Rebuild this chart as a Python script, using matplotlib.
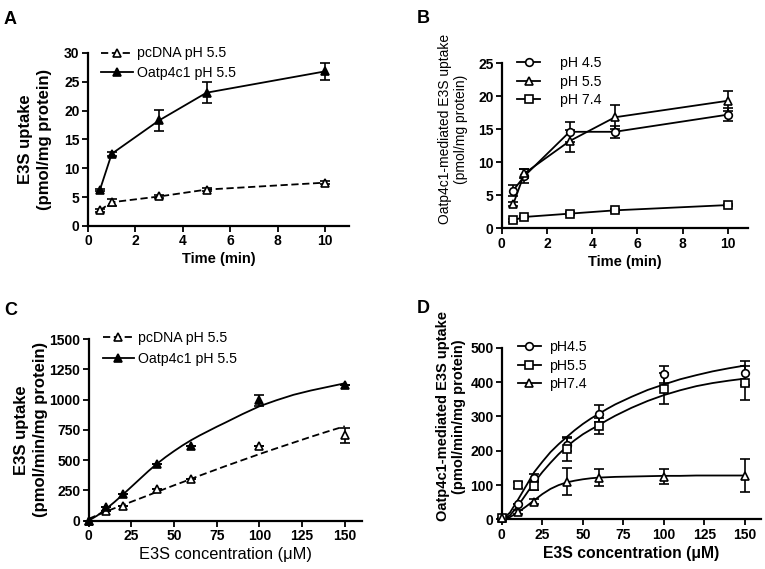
import matplotlib
matplotlib.use('Agg')
import matplotlib.pyplot as plt
from matplotlib.lines import Line2D

plt.rcParams['font.family'] = ['Liberation Sans', 'DejaVu Sans']

# ---------------- panel A: time course, pH 5.5 ----------------
time_a = [0.5, 1, 3, 5, 10]
pcdna_a = [2.7, 4.1, 5.1, 6.3, 7.5]
pcdna_a_err = [0.3, 0.6, 0.3, 0.3, 0.3]
oatp_a = [6.2, 12.5, 18.3, 23.1, 26.8]
oatp_a_err = [0.2, 0.3, 1.8, 1.8, 1.5]

# ---------------- panel B: time course, three pH ----------------
time_b = [0.5, 1, 3, 5, 10]
ph45_b = [5.7, 7.9, 14.6, 14.6, 17.2]
ph45_b_err = [0.8, 1.1, 1.5, 0.9, 1.0]
ph55_b = [3.6, 8.3, 13.2, 16.8, 19.3]
ph55_b_err = [0.3, 0.7, 1.7, 1.8, 1.5]
ph74_b = [1.2, 1.7, 2.2, 2.7, 3.5]
ph74_b_err = [0.2, 0.2, 0.2, 0.2, 0.2]

# ---------------- panel C: concentration dependence ----------------
conc_c = [0, 10, 20, 40, 60, 100, 150]
pcdna_c = [0, 80, 125, 265, 345, 618, 705]
pcdna_c_err = [0, 0, 0, 0, 0, 0, 60]
oatp_c = [0, 110, 220, 466, 620, 993, 1117]
oatp_c_err = [0, 0, 0, 0, 0, 45, 0]
# fitted curves
fit_x_c = [0, 5, 10, 15, 20, 25, 30, 35, 40, 45, 50, 55, 60, 65, 70, 75, 80, 90, 100,
           110, 120, 130, 140, 150]
pcdna_fit_c = [15, 45, 75, 102, 128, 156, 183, 210, 238, 265, 292, 318, 345, 372, 398,
               424, 450, 500, 550, 598, 645, 692, 737, 780]
oatp_fit_c = [0, 42, 95, 153, 215, 280, 345, 410, 470, 525, 575, 622, 665, 704, 740,
              776, 810, 880, 945, 995, 1040, 1075, 1105, 1135]

# ---------------- panel D: Oatp4c1-mediated, three pH ----------------
conc_d = [0, 10, 20, 40, 60, 100, 150]
ph45_d = [5, 45, 122, 218, 308, 423, 426]
ph45_d_err = [0, 0, 10, 20, 25, 25, 35]
ph55_d = [5, 100, 97, 205, 272, 380, 398]
ph55_d_err = [0, 8, 12, 35, 22, 45, 50]
ph74_d = [3, 22, 52, 110, 122, 125, 127]
ph74_d_err = [0, 5, 8, 40, 25, 22, 48]
fit_x_d = [0, 5, 10, 15, 20, 25, 30, 35, 40, 45, 50, 55, 60, 65, 70, 80, 90, 100,
           110, 120, 130, 140, 150]
ph45_fit_d = [0, 20, 58, 98, 138, 168, 196, 219, 240, 260, 278, 294, 308, 322, 335, 357,
              377, 393, 408, 420, 431, 440, 448]
ph55_fit_d = [0, 12, 40, 74, 108, 138, 165, 190, 212, 231, 248, 262, 275, 289, 302, 325,
              345, 362, 376, 388, 397, 404, 410]
ph74_fit_d = [0, 7, 21, 38, 56, 74, 89, 100, 108, 113, 117, 120, 122, 123, 124, 125,
              126, 127, 127, 128, 128, 128, 128]

LW = 1.3
MS = 5.5
DASH = (0, (4, 2))


def style_axes(ax, xticks, yticks, xlim, ylim):
    ax.spines['top'].set_visible(False)
    ax.spines['right'].set_visible(False)
    ax.spines['left'].set_linewidth(1.6)
    ax.spines['bottom'].set_linewidth(1.6)
    ax.set_xlim(*xlim)
    ax.set_ylim(*ylim)
    ax.set_xticks(xticks)
    ax.set_yticks(yticks)
    ax.tick_params(direction='out', length=4, width=1.3, pad=2)
    for lab in ax.get_xticklabels() + ax.get_yticklabels():
        lab.set_fontsize(10)
        lab.set_fontweight('bold')


def err_series(ax, x, y, yerr, marker, mfc, ls):
    ax.errorbar(x, y, yerr=yerr, fmt=marker, color='black', mfc=mfc, mec='black',
                ms=MS, mew=1.2, elinewidth=1.2, capsize=3.5, capthick=1.2,
                ls=ls, lw=LW, clip_on=False, zorder=3)


def handle(marker, mfc, ls):
    return Line2D([], [], color='black', ls=ls, lw=LW, marker=marker, mfc=mfc,
                  mec='black', ms=MS, mew=1.2)


def add_legend(ax, handles, labels, x, y, hlen, gap, spacing):
    ax.legend(handles, labels, loc='upper left', bbox_to_anchor=(x, y), frameon=False,
              fontsize=10.2, handlelength=hlen, labelspacing=spacing, borderaxespad=0,
              handletextpad=gap)


fig = plt.figure(figsize=(7.65, 5.69), dpi=100)

# ---- A ----
axA = fig.add_axes([0.115, 0.603, 0.341, 0.304])
err_series(axA, time_a, pcdna_a, pcdna_a_err, '^', 'white', DASH)
err_series(axA, time_a, oatp_a, oatp_a_err, '^', 'black', '-')
style_axes(axA, range(0, 11, 2), range(0, 31, 5), (0, 11), (0, 30))
axA.set_xlabel('Time (min)', fontsize=10.5, fontweight='bold', labelpad=3)
axA.set_ylabel('E3S uptake\n(pmol/mg protein)', fontsize=12, fontweight='bold', labelpad=9,
               linespacing=1.3)
add_legend(axA, [handle('^', 'white', DASH), handle('^', 'black', '-')],
           ['pcDNA pH 5.5', 'Oatp4c1 pH 5.5'], 0.03, 1.07, 2.2, 0.3, 0.4)

# ---- B ----
axB = fig.add_axes([0.656, 0.599, 0.322, 0.290])
err_series(axB, time_b, ph45_b, ph45_b_err, 'o', 'white', '-')
err_series(axB, time_b, ph55_b, ph55_b_err, '^', 'white', '-')
err_series(axB, time_b, ph74_b, ph74_b_err, 's', 'white', '-')
style_axes(axB, range(0, 11, 2), range(0, 26, 5), (0, 10.9), (0, 25))
axB.set_xlabel('Time (min)', fontsize=10.5, fontweight='bold', labelpad=3)
axB.set_ylabel('Oatp4c1-mediated E3S uptake\n(pmol/mg protein)', fontsize=10, labelpad=7)
axB.yaxis.label.set_y(0.6)
add_legend(axB, [handle('o', 'white', '-'), handle('^', 'white', '-'), handle('s', 'white', '-')],
           ['pH 4.5', 'pH 5.5', 'pH 7.4'], 0.04, 1.075, 1.6, 1.4, 0.3)

# ---- C ----
axC = fig.add_axes([0.116, 0.085, 0.357, 0.319])
axC.plot(fit_x_c, pcdna_fit_c, color='black', ls=DASH, lw=LW)
axC.plot(fit_x_c, oatp_fit_c, color='black', ls='-', lw=LW)
err_series(axC, conc_c, pcdna_c, pcdna_c_err, '^', 'white', 'none')
err_series(axC, conc_c, oatp_c, oatp_c_err, '^', 'black', 'none')
style_axes(axC, range(0, 151, 25), range(0, 1501, 250), (0, 160), (0, 1500))
axC.set_xlabel('E3S concentration (\u03bcM)', fontsize=11.8, labelpad=3)
axC.set_ylabel('E3S uptake\n(pmol/min/mg protein)', fontsize=12, fontweight='bold', labelpad=1,
               linespacing=1.3)
add_legend(axC, [handle('^', 'white', DASH), handle('^', 'black', '-')],
           ['pcDNA pH 5.5', 'Oatp4c1 pH 5.5'], 0.03, 1.075, 2.2, 0.3, 0.5)

# ---- D ----
axD = fig.add_axes([0.656, 0.087, 0.339, 0.302])
axD.plot(fit_x_d, ph45_fit_d, color='black', lw=LW)
axD.plot(fit_x_d, ph55_fit_d, color='black', lw=LW)
axD.plot(fit_x_d, ph74_fit_d, color='black', lw=LW)
err_series(axD, conc_d, ph45_d, ph45_d_err, 'o', 'white', 'none')
err_series(axD, conc_d, ph55_d, ph55_d_err, 's', 'white', 'none')
err_series(axD, conc_d, ph74_d, ph74_d_err, '^', 'white', 'none')
style_axes(axD, range(0, 151, 25), range(0, 501, 100), (0, 160), (0, 500))
axD.set_xlabel('E3S concentration (\u03bcM)', fontsize=11.3, fontweight='bold', labelpad=3)
axD.set_ylabel('Oatp4c1-mediated E3S uptake\n(pmol/min/mg protein)', fontsize=10.5,
               fontweight='bold', labelpad=3)
axD.yaxis.label.set_y(0.6)
add_legend(axD, [handle('o', 'white', '-'), handle('s', 'white', '-'), handle('^', 'white', '-')],
           ['pH4.5', 'pH5.5', 'pH7.4'], 0.04, 1.075, 1.6, 0.6, 0.3)

# panel letters
for x, y, s in [(0.005, 0.965, 'A'), (0.545, 0.967, 'B'), (0.005, 0.455, 'C'), (0.545, 0.458, 'D')]:
    fig.text(x, y, s, fontsize=13, fontweight='bold', ha='left', va='center')

plt.savefig('out.png', dpi=100)
